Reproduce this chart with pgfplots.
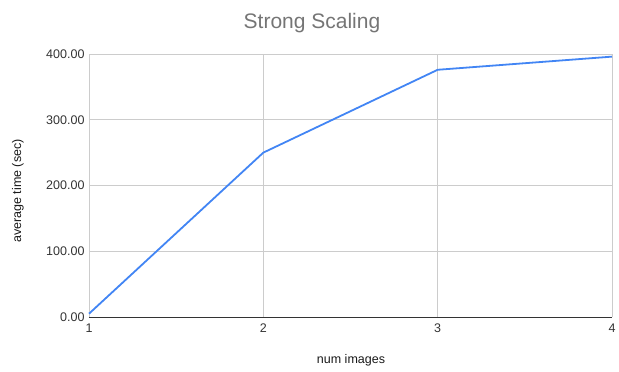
\documentclass[border=0pt]{standalone}
\usepackage{pgfplots}
\pgfplotsset{compat=1.18}
\usepackage{fontspec}
\setmainfont{Liberation Sans}
\definecolor{gblue}{HTML}{4285F4}
\definecolor{gridc}{HTML}{CCCCCC}
\definecolor{tickc}{HTML}{333333}
\definecolor{titlec}{HTML}{757575}
\begin{document}
\begin{tikzpicture}[x=1pt,y=1pt]
\path[use as bounding box] (-89,-55) rectangle (530,317);
\begin{axis}[
  at={(0,0)}, anchor=origin,
  scale only axis, width=523pt, height=263pt,
  xmin=1, xmax=4, ymin=0, ymax=400,
  xtick={1,2,3,4}, ytick={0,100,200,300,400},
  yticklabel style={xshift=-1pt},
  yticklabel style={/pgf/number format/.cd, fixed, fixed zerofill, precision=2},
  /pgf/number format/assume math mode=true,
  ticklabel style={font=\fontsize{12.5}{15}\selectfont, text=tickc},
  xticklabel style={yshift=-3pt},
  grid=major, major grid style={gridc, line width=0.8pt},
  axis line style={draw=none},
  tick style={draw=none},
  clip=false,
]
\addplot[gblue, line width=1.8pt] coordinates {(1,5) (2,250) (3,376) (4,396)};
\draw[black!80, line width=0.8pt] (axis cs:1,0) -- (axis cs:4,0);
\end{axis}
\node[text=titlec, font=\fontsize{21}{24}\selectfont] at (223,294) {Strong Scaling};
\node[text=black!90, font=\fontsize{12.5}{15}\selectfont] at (262,-43) {num images};
\node[text=black!90, font=\fontsize{12.5}{15}\selectfont, rotate=90] at (-71,126) {average time (sec)};
\end{tikzpicture}
\end{document}
